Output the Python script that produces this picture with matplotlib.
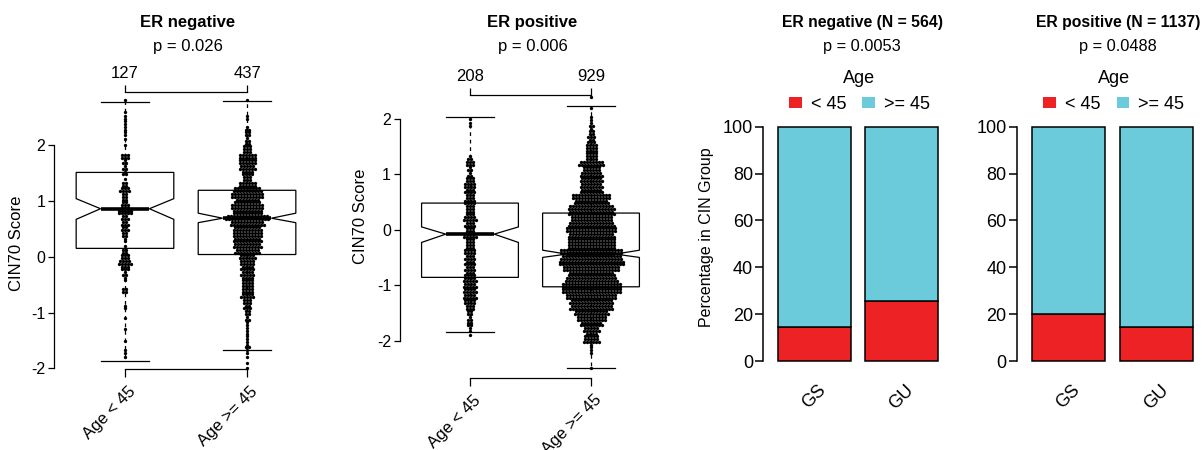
"""CIN70 score by age group and CIN group composition, ER- / ER+ panels."""

import matplotlib
matplotlib.use("Agg")
import matplotlib.pyplot as plt
import matplotlib.transforms as mtransforms
from matplotlib.patches import Patch
import numpy as np

plt.rcParams["font.family"] = ["Liberation Sans", "DejaVu Sans"]
plt.rcParams["axes.unicode_minus"] = False

W, H = 1202, 450

# ---------------- data ----------------
age_groups = ["Age < 45", "Age >= 45"]
er_titles = ["ER negative", "ER positive"]
box_pvals = ["p = 0.026", "p = 0.006"]
box_n = [["127", "437"], ["208", "929"]]

# box stats: whislo, q1, med, q3, whishi, notch lo, notch hi
erneg_young_box = [-1.86, 0.15, 0.86, 1.51, 2.77, 0.67, 1.04]
erneg_old_box = [-1.67, 0.04, 0.69, 1.19, 2.79, 0.61, 0.78]
erpos_young_box = [-1.85, -0.86, -0.08, 0.48, 2.04, -0.23, 0.05]
erpos_old_box = [-2.49, -1.03, -0.44, 0.30, 2.23, -0.50, -0.37]

# beeswarm points, counted per 0.1-wide score bin (bin centre, number of samples)
erneg_young_y = [2.8, 2.6, 2.5, 2.4, 2.3, 2.2, 2.1, 2.0, 1.8, 1.7, 1.6, 1.5, 1.4,
                 1.3, 1.2, 1.1, 1.0, 0.9, 0.8, 0.7, 0.6, 0.5, 0.4, 0.3, 0.2, 0.1,
                 0.0, -0.1, -0.2, -0.3, -0.4, -0.6, -0.9, -1.1, -1.3, -1.5, -1.7, -1.8]
erneg_young_n = [1, 1, 2, 2, 2, 2, 1, 1, 6, 3, 3, 3, 1,
                 4, 7, 4, 4, 6, 10, 5, 5, 5, 4, 2, 1, 4,
                 6, 9, 6, 3, 2, 4, 2, 1, 1, 1, 2, 1]

erneg_old_y = [2.8, 2.5, 2.3, 2.2, 2.1, 2.0, 1.9, 1.8, 1.7, 1.6, 1.5, 1.4, 1.3,
               1.2, 1.1, 1.0, 0.9, 0.8, 0.7, 0.6, 0.5, 0.4, 0.3, 0.2, 0.1, 0.0,
               -0.1, -0.2, -0.3, -0.4, -0.5, -0.6, -0.7, -0.8, -0.9, -1.0, -1.1,
               -1.2, -1.3, -1.4, -1.5, -1.6, -1.7, -1.8, -1.9, -2.0]
erneg_old_n = [1, 2, 3, 4, 3, 5, 6, 12, 12, 11, 8, 6, 12,
               19, 22, 17, 22, 20, 29, 23, 19, 20, 19, 19, 17, 11,
               10, 9, 9, 8, 8, 8, 9, 6, 5, 4, 3,
               2, 2, 2, 2, 3, 2, 1, 1, 1]

erpos_young_y = [2.0, 1.9, 1.3, 1.2, 1.1, 1.0, 0.9, 0.8, 0.7, 0.6, 0.5, 0.4, 0.3,
                 0.2, 0.1, 0.0, -0.1, -0.2, -0.3, -0.4, -0.5, -0.6, -0.7, -0.8,
                 -0.9, -1.0, -1.1, -1.2, -1.3, -1.4, -1.5, -1.6, -1.7, -1.8, -1.9]
erpos_young_n = [1, 2, 3, 6, 3, 3, 6, 8, 7, 6, 8, 6, 6,
                 9, 7, 6, 9, 6, 6, 8, 7, 7, 7, 7,
                 9, 9, 9, 9, 8, 6, 4, 3, 4, 2, 1]

erpos_old_y = [2.4, 2.2, 2.0, 1.9, 1.8, 1.7, 1.6, 1.5, 1.4, 1.3, 1.2, 1.1, 1.0,
               0.9, 0.8, 0.7, 0.6, 0.5, 0.4, 0.3, 0.2, 0.1, 0.0, -0.1, -0.2,
               -0.3, -0.4, -0.5, -0.6, -0.7, -0.8, -0.9, -1.0, -1.1, -1.2, -1.3,
               -1.4, -1.5, -1.6, -1.7, -1.8, -1.9, -2.0, -2.1, -2.2, -2.5]
erpos_old_n = [1, 1, 2, 3, 3, 5, 5, 8, 8, 8, 17, 12, 15,
               15, 15, 15, 26, 23, 31, 31, 28, 31, 34, 31, 32,
               32, 42, 41, 44, 38, 31, 35, 40, 40, 34, 29,
               29, 23, 20, 15, 11, 9, 11, 2, 2, 1]

# stacked bars: percentage of each CIN group by age
cin_groups = ["GS", "GU"]
age_legend = ["< 45", ">= 45"]
bar_titles = ["ER negative (N = 564)", "ER positive (N = 1137)"]
bar_pvals = ["p = 0.0053", "p = 0.0488"]
erneg_young_pct = [14.6, 25.6]
erneg_old_pct = [85.4, 74.4]
erpos_young_pct = [19.9, 14.5]
erpos_old_pct = [80.1, 85.5]

RED = "#ED2224"
CYAN = "#6BCBDB"
DOT_PITCH_PX = 3.0


def frac(left, top, right, bottom):
    return [left / W, 1 - bottom / H, (right - left) / W, (bottom - top) / H]


def draw_swarm(ax, xc, ys, counts, px_per_x):
    dx = DOT_PITCH_PX / px_per_x
    xs, yy = [], []
    for y, c in zip(ys, counts):
        rows = [(y, 1)] if c == 1 else [(y - 0.025, c - c // 2), (y + 0.025, c // 2)]
        for yr, k in rows:
            off = (np.arange(k) - (k - 1) / 2) * dx
            xs.extend(xc + off)
            yy.extend([yr] * k)
    ax.scatter(xs, yy, s=5.8, c="black", linewidths=0, zorder=3, clip_on=False)


def box_panel(fig, rect, ylim, boxes, swarms, title, pval, nlab, ylab_xy, lab_dx, lab_dy):
    ax = fig.add_axes(frac(*rect))
    ax.set_xlim(0.42, 2.58)
    ax.set_ylim(*ylim)
    px_per_x = (rect[2] - rect[0]) / 2.16

    stats = []
    for b in boxes:
        stats.append(dict(whislo=b[0], q1=b[1], med=b[2], q3=b[3], whishi=b[4],
                          cilo=b[5], cihi=b[6], fliers=[]))
    ax.bxp(stats, positions=[1, 2], widths=0.8, capwidths=0.4, shownotches=True,
           patch_artist=True, manage_ticks=False, zorder=1,
           boxprops=dict(facecolor="white", edgecolor="black", linewidth=0.9),
           whiskerprops=dict(color="black", linewidth=0.9, linestyle=(0, (3, 3))),
           capprops=dict(color="black", linewidth=0.9),
           medianprops=dict(color="black", linewidth=2.6, solid_capstyle="butt"))

    for i, (ys, ns) in enumerate(swarms):
        draw_swarm(ax, i + 1, ys, ns, px_per_x)

    for s in ["right", "top"]:
        ax.spines[s].set_visible(False)
    ax.spines["left"].set_bounds(-2, 2)
    ax.spines["bottom"].set_bounds(1, 2)
    for s in ["left", "bottom"]:
        ax.spines[s].set_linewidth(0.9)
    ax.set_yticks([-2, -1, 0, 1, 2])
    ax.tick_params(axis="y", length=4.3, width=0.9, pad=2, labelsize=11.5)
    ax.set_xticks([1, 2])
    ax.set_xticklabels(["", ""])
    ax.tick_params(axis="x", length=5.5, width=0.9)

    tr = mtransforms.offset_copy(ax.get_xaxis_transform(), fig=fig, x=lab_dx, y=lab_dy, units="dots")
    for i, lab in enumerate(age_groups):
        ax.text(i + 1, 0, lab, transform=tr, rotation=45, rotation_mode="anchor",
                ha="right", va="center", fontsize=12)

    sec = ax.secondary_xaxis("top")
    sec.set_xticks([1, 2], labels=nlab)
    sec.spines["top"].set_bounds(1, 2)
    sec.spines["top"].set_linewidth(0.9)
    sec.tick_params(length=5, width=0.9, pad=3, labelsize=12)

    ax.set_ylabel("CIN70 Score", fontsize=12)
    ax.yaxis.set_label_coords(*ylab_xy)

    cx = (rect[0] + rect[2]) / 2 + 2
    fig.text(cx / W, 1 - 23 / H, title, ha="center", va="center", fontsize=12, fontweight="bold")
    fig.text(cx / W, 1 - 47 / H, pval, ha="center", va="center", fontsize=12)
    return ax


def bar_panel(fig, rect, young, old, title, pval, tx):
    ax = fig.add_axes(frac(*rect))
    xpos = 0.7 + 1.2 * np.arange(len(cin_groups))
    ax.bar(xpos, young, width=1.0, color=RED, edgecolor="black", linewidth=1.1, clip_on=False)
    ax.bar(xpos, old, width=1.0, bottom=young, color=CYAN, edgecolor="black",
           linewidth=1.1, clip_on=False)
    ax.set_xlim(0, 2.6)
    ax.set_ylim(0, 100)
    for s in ["right", "top", "bottom"]:
        ax.spines[s].set_visible(False)
    ax.spines["left"].set_linewidth(1.1)
    ax.set_yticks([0, 20, 40, 60, 80, 100])
    ax.tick_params(axis="y", length=5.5, width=1.1, pad=2, labelsize=13)
    ax.set_xticks(xpos)
    ax.set_xticklabels(cin_groups, rotation=45, ha="center", fontsize=13)
    ax.tick_params(axis="x", length=0, pad=15)

    handles = [Patch(facecolor=RED, edgecolor="none"), Patch(facecolor=CYAN, edgecolor="none")]
    ax.legend(handles, age_legend, title="Age", ncol=2, loc="lower center",
              bbox_to_anchor=(0.507, 1.06), frameon=False, fontsize=13, title_fontsize=13,
              handlelength=0.7, handleheight=0.55, handletextpad=0.5, columnspacing=0.9,
              borderpad=0, borderaxespad=0)

    fig.text(tx / W, 1 - 23 / H, title, ha="center", va="center", fontsize=11.3,
             fontweight="bold")
    fig.text(tx / W, 1 - 47 / H, pval, ha="center", va="center", fontsize=11.8)
    return ax


def main():
    fig = plt.figure(figsize=(W / 100, H / 100), dpi=100)

    box_panel(fig, (54.2, 92, 317.8, 369), (-2.01, 2.95),
              [erneg_young_box, erneg_old_box],
              [(erneg_young_y, erneg_young_n), (erneg_old_y, erneg_old_n)],
              er_titles[0], box_pvals[0], box_n[0], (-0.115, 0.455), 8, -20)
    box_panel(fig, (399.8, 95, 661.2, 377.7), (-2.67, 2.43),
              [erpos_young_box, erpos_old_box],
              [(erpos_young_y, erpos_young_n), (erpos_old_y, erpos_old_n)],
              er_titles[1], box_pvals[1], box_n[1], (-0.12, 0.57), 8, -20)

    ax3 = bar_panel(fig, (763.4, 126.7, 953, 361), erneg_young_pct, erneg_old_pct,
                    bar_titles[0], bar_pvals[0], 862)
    ax3.set_ylabel("Percentage in CIN Group", fontsize=11.5)
    ax3.yaxis.set_label_coords(-0.26, 0.53)
    bar_panel(fig, (1017, 126.7, 1207.6, 361), erpos_young_pct, erpos_old_pct,
              bar_titles[1], bar_pvals[1], 1118)

    fig.savefig("out.png", dpi=100)
    plt.close(fig)


if __name__ == "__main__":
    main()
